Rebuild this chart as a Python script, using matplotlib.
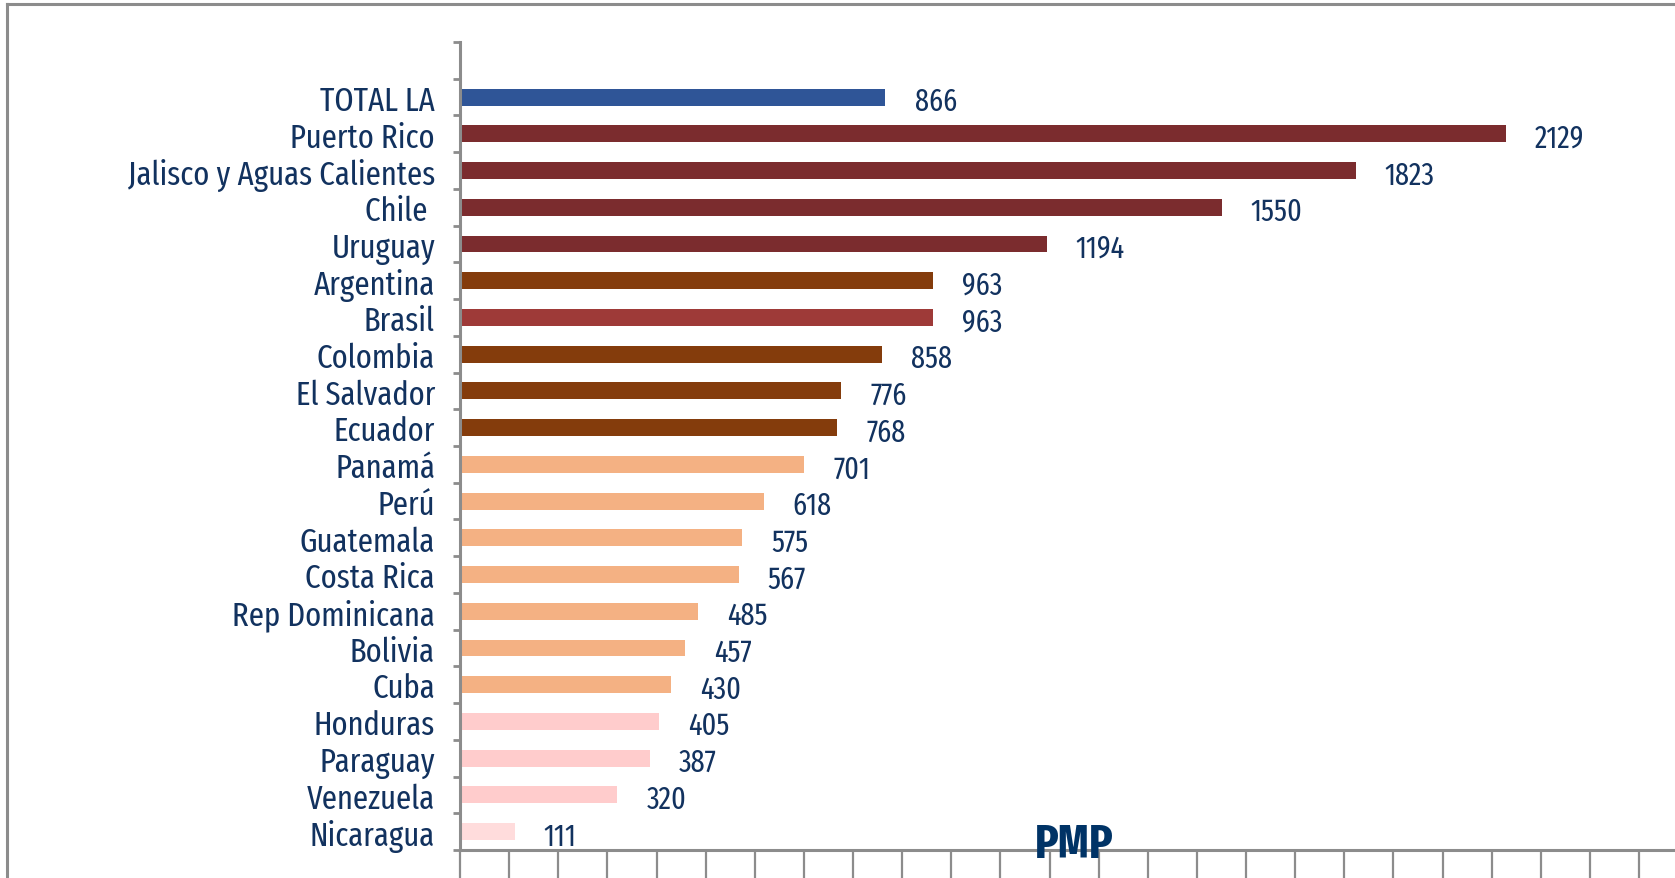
import matplotlib
matplotlib.use("Agg")
import matplotlib.pyplot as plt
from matplotlib.lines import Line2D

# --- Data (top to bottom) ---
countries = ["TOTAL LA", "Puerto Rico", "Jalisco y Aguas Calientes", "Chile ",
             "Uruguay", "Argentina", "Brasil", "Colombia", "El Salvador",
             "Ecuador", "Panamá", "Perú", "Guatemala", "Costa Rica",
             "Rep Dominicana", "Bolivia", "Cuba", "Honduras", "Paraguay",
             "Venezuela", "Nicaragua"]
pmp = [866, 2129, 1823, 1550, 1194, 963, 963, 858, 776, 768, 701, 618,
       575, 567, 485, 457, 430, 405, 387, 320, 111]
bar_colors = ["#2F5597", "#7B2C2E", "#7B2C2E", "#7B2C2E", "#7B2C2E",
              "#843C0C", "#9E3A38", "#843C0C", "#843C0C", "#843C0C",
              "#F4B183", "#F4B183", "#F4B183", "#F4B183", "#F4B183",
              "#F4B183", "#F4B183", "#FFCCCC", "#FFCCCC", "#FFCCCC",
              "#FFDCDC"]
axis_title = "PMP"

plt.rcParams["font.family"] = ["Fira Sans Extra Condensed", "Liberation Sans", "DejaVu Sans"]

navy = "#12325F"
gray = "#8C8C8C"
W, H = 1675, 879

fig = plt.figure(figsize=(W / 100, H / 100), dpi=100)
ax_left, ax_bottom, ax_top = 460, 851, 43
ax = fig.add_axes([ax_left / W, (H - ax_bottom) / H, 1 - ax_left / W, (ax_bottom - ax_top) / H])

n = len(countries)
ypos = [n - i - 1 for i in range(n)]
ax.barh(ypos, pmp, height=0.46, color=bar_colors, zorder=2)

ax.set_xlim(0, (W - ax_left) / 0.4913)
ax.set_ylim(-0.5, n + 0.5)

# value labels
for y, v in zip(ypos, pmp):
    ax.annotate(str(v), (v, y), xytext=(21, -3), textcoords="offset points",
                ha="left", va="center", fontsize=22, color=navy)

# y axis: labels at centres, tick marks at boundaries
ax.set_yticks(ypos)
ax.set_yticklabels(countries, fontsize=24, color=navy)
ax.tick_params(axis="y", which="major", length=0, pad=18)
ax.set_yticks([i - 0.5 for i in range(n + 2)], minor=True)
ax.tick_params(axis="y", which="minor", length=5, width=2, color=gray, direction="out")

# x axis: tick marks every 100, no labels
ax.set_xticks(range(0, 2500, 100))
ax.set_xticklabels([])
ax.tick_params(axis="x", which="major", length=22, width=1.6, color=gray, direction="out")

for side in ["top", "right"]:
    ax.spines[side].set_visible(False)
for side in ["left", "bottom"]:
    ax.spines[side].set_color(gray)
    ax.spines[side].set_linewidth(2.2)

# axis title sitting on the x axis
fig.text(1074 / W, (H - 858) / H, axis_title, ha="center", va="baseline",
         fontsize=34, fontweight="bold", color="#003366", zorder=10)

# outer chart frame (only top and left edges visible)
fig.add_artist(Line2D([7 / W, 7 / W], [0, (H - 5) / H], color=gray, lw=2.2))
fig.add_artist(Line2D([7 / W, 1], [(H - 5) / H, (H - 5) / H], color=gray, lw=2.2))

fig.savefig("out.png", dpi=100)
